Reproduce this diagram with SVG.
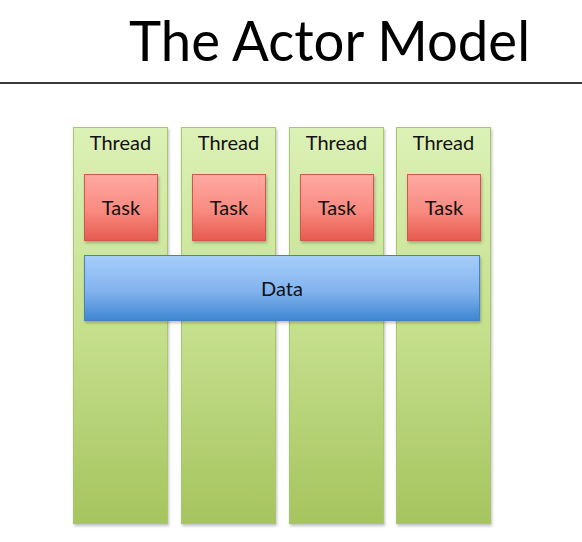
<svg xmlns="http://www.w3.org/2000/svg" width="582" height="542" viewBox="0 0 582 542">
<defs>
<linearGradient id="gGreen" x1="0" y1="0" x2="0" y2="1">
<stop offset="0" stop-color="#dcf1b6"/>
<stop offset="0.5" stop-color="#c6e08e"/>
<stop offset="1" stop-color="#a6c45e"/>
</linearGradient>
<linearGradient id="gRed" x1="0" y1="0" x2="0" y2="1">
<stop offset="0" stop-color="#ffaaa2"/>
<stop offset="0.55" stop-color="#f88a80"/>
<stop offset="1" stop-color="#e65a4e"/>
</linearGradient>
<linearGradient id="gBlue" x1="0" y1="0" x2="0" y2="1">
<stop offset="0" stop-color="#a6cdf9"/>
<stop offset="0.55" stop-color="#82b3ee"/>
<stop offset="1" stop-color="#3d86d2"/>
</linearGradient>
<filter id="sh" x="-10%" y="-10%" width="120%" height="120%">
<feDropShadow dx="1" dy="2" stdDeviation="1.5" flood-color="#000" flood-opacity="0.25"/>
</filter>
</defs>
<style>
.thread{fill:url(#gGreen);stroke:#a9c771;stroke-width:1;filter:url(#sh)}
.task{fill:url(#gRed);stroke:#d0574f;stroke-width:1;filter:url(#sh)}
.data{fill:url(#gBlue);stroke:#4a80c0;stroke-width:1;filter:url(#sh)}
.lbl{font-family:Lato,"Open Sans","Liberation Sans",sans-serif;font-size:20px;fill:#111;text-anchor:middle}
.title{font-family:Lato,"Liberation Sans",sans-serif;font-size:57px;fill:#000}
</style>
<rect width="582" height="542" fill="#fff"/>
<g id="title">
<text class="title" x="129" y="61" textLength="401" lengthAdjust="spacingAndGlyphs">The Actor Model</text>
<line x1="0" y1="83" x2="582" y2="83" stroke="#3a3a3a" stroke-width="2"/>
</g>
<g id="thread1"><rect class="thread" x="73.5" y="127.5" width="94" height="396"/><text class="lbl" x="120.5" y="150">Thread</text></g>
<g id="thread2"><rect class="thread" x="181.5" y="127.5" width="94" height="396"/><text class="lbl" x="228.5" y="150">Thread</text></g>
<g id="thread3"><rect class="thread" x="289.5" y="127.5" width="94" height="396"/><text class="lbl" x="336.5" y="150">Thread</text></g>
<g id="thread4"><rect class="thread" x="396.5" y="127.5" width="94" height="396"/><text class="lbl" x="443.5" y="150">Thread</text></g>
<g id="task1"><rect class="task" x="84.5" y="174.5" width="73" height="66"/><text class="lbl" x="121" y="215">Task</text></g>
<g id="task2"><rect class="task" x="192.5" y="174.5" width="73" height="66"/><text class="lbl" x="229" y="215">Task</text></g>
<g id="task3"><rect class="task" x="300.5" y="174.5" width="73" height="66"/><text class="lbl" x="337" y="215">Task</text></g>
<g id="task4"><rect class="task" x="407.5" y="174.5" width="73" height="66"/><text class="lbl" x="444" y="215">Task</text></g>
<g id="data"><rect class="data" x="84.5" y="255.5" width="395" height="65"/><text class="lbl" x="282" y="296">Data</text></g>
<g id="connectors"/>
</svg>
